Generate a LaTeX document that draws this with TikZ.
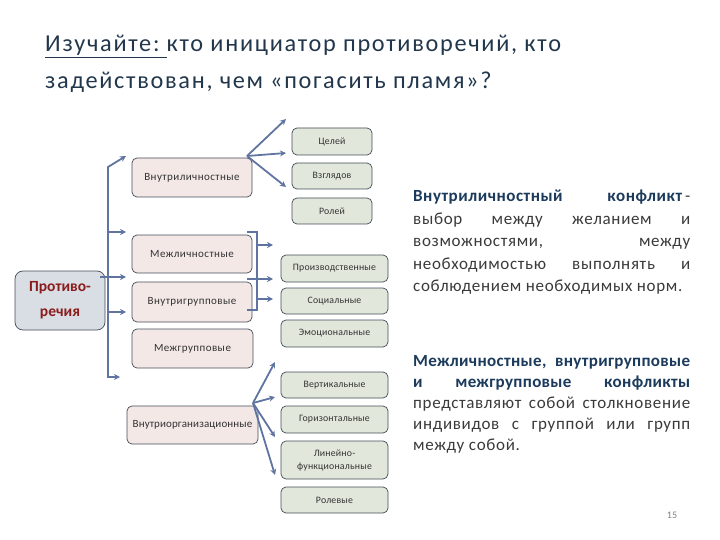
\documentclass[tikz,border=0pt]{standalone}
\usepackage{fontspec}
\setmainfont{Carlito}
\usetikzlibrary{arrows.meta}
\definecolor{titlec}{HTML}{22374C}
\definecolor{conncol}{HTML}{5F74A0}
\definecolor{boxline}{HTML}{434C57}
\definecolor{pinkfill}{HTML}{F3E8E6}
\definecolor{greenfill}{HTML}{E1E7DB}
\definecolor{rootfill}{HTML}{D9DDE4}
\definecolor{rootred}{HTML}{8B1C1C}
\definecolor{boldblue}{HTML}{1B3A5C}
\definecolor{bodygray}{HTML}{3A3A3A}
\definecolor{boxtext}{HTML}{333333}
\begin{document}
\begin{tikzpicture}[x=1pt,y=-1pt,
  basebox/.style={draw=boxline, line width=0.7pt, rounded corners=5pt, inner sep=1pt, align=center, text=boxtext},
  leftbox/.style={basebox, fill=pinkfill, font=\fontsize{11}{13}\selectfont\addfontfeature{LetterSpace=4}},
  rightbox/.style={basebox, fill=greenfill, font=\fontsize{9.8}{12}\selectfont\addfontfeature{LetterSpace=2}},
  rootbox/.style={basebox, fill=rootfill, rounded corners=8pt, font=\fontsize{15.5}{25}\selectfont\bfseries, text=rootred},
  conn/.style={draw=conncol, line width=1.8pt},
  arr/.style={conn, -{Stealth[length=6pt,width=6pt]}},
  para/.style={anchor=north west, inner sep=0pt, text width=277pt, align=justify, font=\fontsize{17}{22.5}\selectfont\addfontfeature{LetterSpace=4}, text=bodygray},
  titletext/.style={anchor=base west, inner sep=0pt, text=titlec, font=\fontsize{24.3}{28}\selectfont\addfontfeature{LetterSpace=7}}
]
\useasboundingbox (0,0) rectangle (720,540);

% title
\node[titletext] (t1) at (45,52) {\underline{Изучайте:\ }кто инициатор противоречий, кто};
\node[titletext] (t2) at (45,89) {задействован, чем «погасить пламя»?};

% root
\node[rootbox, minimum width=90pt, minimum height=59pt] (root) at (60,300.5) {Противо-\\речия};

% left boxes
\node[leftbox, minimum width=120pt, minimum height=39pt] (intrap) at (192,177.5) {Внутриличностные};
\node[leftbox, minimum width=120pt, minimum height=38pt] (interp) at (192,254) {Межличностные};
\node[leftbox, minimum width=120pt, minimum height=40pt] (intrag) at (192,302) {Внутригрупповые};
\node[leftbox, minimum width=121pt, minimum height=39pt] (interg) at (192.5,348.5) {Межгрупповые};
\node[leftbox, minimum width=131pt, minimum height=38pt, font=\fontsize{11}{13}\selectfont\addfontfeature{LetterSpace=1}] (org) at (192.5,425) {Внутриорганизационные};

% right boxes
\node[rightbox, minimum width=80pt, minimum height=27pt] (goals) at (332,141.5) {Целей};
\node[rightbox, minimum width=80pt, minimum height=26pt] (views) at (332,176) {Взглядов};
\node[rightbox, minimum width=80pt, minimum height=26pt] (roles) at (332,211) {Ролей};
\node[rightbox, minimum width=107pt, minimum height=27pt] (prod) at (334.5,268.5) {Производственные};
\node[rightbox, minimum width=107pt, minimum height=26pt] (soc) at (334.5,301) {Социальные};
\node[rightbox, minimum width=107pt, minimum height=27pt] (emo) at (334.5,333.5) {Эмоциональные};
\node[rightbox, minimum width=107pt, minimum height=26pt] (vert) at (334.5,385) {Вертикальные};
\node[rightbox, minimum width=107pt, minimum height=27pt] (hor) at (334.5,419.5) {Горизонтальные};
\node[rightbox, minimum width=107pt, minimum height=38pt, font=\fontsize{9.8}{13}\selectfont\addfontfeature{LetterSpace=2}] (lin) at (334.5,460) {Линейно-\\функциональные};
\node[rightbox, minimum width=107pt, minimum height=26pt] (rol) at (334.5,500) {Ролевые};

% trunk connectors
\coordinate (trTop) at (108,167);
\coordinate (trBot) at (108,377);
\coordinate (aTop) at (126,156);
\coordinate (aBot) at (120,377);
\draw[conn, {Stealth[length=6pt,width=6pt]}-{Stealth[length=6pt,width=6pt]}] (aTop) -- (trTop) -- (trBot) -- (aBot);
\coordinate (s2) at (108,232); \coordinate (e2) at (126,232);
\coordinate (s3) at (100,277); \coordinate (e3) at (126,277);
\coordinate (s4) at (108,312); \coordinate (e4) at (126,312);
\draw[arr] (s2) -- (e2);
\draw[arr] (s3) -- (e3);
\draw[arr] (s4) -- (e4);

% intrapersonal fan
\coordinate (fo) at (247,156);
\coordinate (f1) at (286,119);
\coordinate (f2) at (286,153);
\coordinate (f3) at (286,187);
\draw[arr] (fo) -- (f1);
\draw[arr] (fo) -- (f2);
\draw[arr] (fo) -- (f3);

% bracket
\coordinate (b1) at (247,232); \coordinate (b2) at (257,232);
\coordinate (b3) at (257,310); \coordinate (b4) at (247,310);
\draw[conn, line width=1.5pt] (b1) -- (b2) -- (b3) -- (b4);
\coordinate (g1s) at (257,245); \coordinate (g1e) at (273,245);
\coordinate (g2s) at (247,279); \coordinate (g2e) at (273,279);
\coordinate (g3s) at (257,299); \coordinate (g3e) at (273,299);
\draw[arr] (g1s) -- (g1e);
\draw[arr] (g2s) -- (g2e);
\draw[arr] (g3s) -- (g3e);

% organizational fan
\coordinate (oo) at (253,403);
\coordinate (o1) at (275,362);
\coordinate (o2) at (275,397);
\coordinate (o3) at (275,437);
\coordinate (o4) at (275,475);
\draw[arr] (oo) -- (o1);
\draw[arr] (oo) -- (o2);
\draw[arr] (oo) -- (o3);
\draw[arr] (oo) -- (o4);

% text blocks
\node[para] (p1) at (413,190) {{\bfseries\addfontfeature{LetterSpace=3}\color{boldblue}Внутриличностный конфликт}\,-\linebreak выбор между желанием и\linebreak возможностями, между\linebreak необходимостью выполнять и\linebreak соблюдением необходимых норм.};
\node[para, font=\fontsize{17}{21}\selectfont\addfontfeature{LetterSpace=4}] (p2) at (413,355) {{\bfseries\addfontfeature{LetterSpace=2}\color{boldblue}Межличностные, внутригрупповые\linebreak и межгрупповые конфликты}\linebreak представляют собой столкновение\linebreak индивидов с группой или групп\linebreak между собой.};

% page number
\node[inner sep=0pt, text=gray, font=\fontsize{10}{12}\selectfont] (pg) at (672,515) {15};
\end{tikzpicture}
\end{document}
